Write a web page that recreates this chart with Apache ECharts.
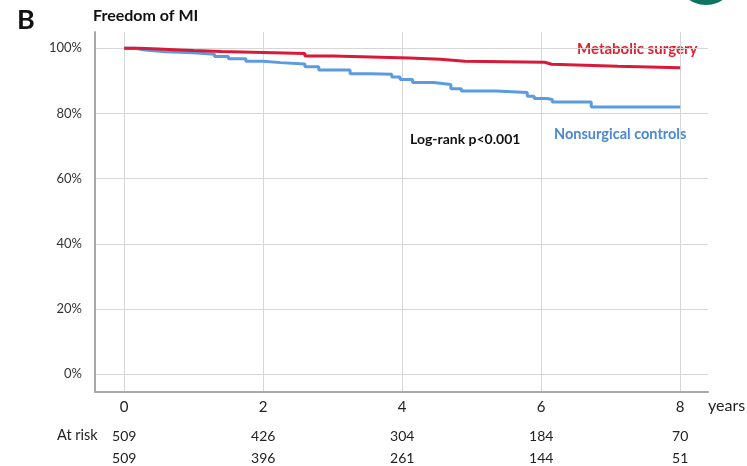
<!DOCTYPE html>
<html><head><meta charset="utf-8">
<script src="https://cdn.jsdelivr.net/npm/echarts@6/dist/echarts.min.js"></script>
<style>html,body{margin:0;padding:0;background:#fff}#c{width:747px;height:466px}</style>
</head><body><div id="c"></div>
<script>
// ---- data ----
const xTicks = [0, 2, 4, 6, 8];
const atRiskSurgery = [509, 426, 304, 184, 70];
const atRiskControls = [509, 396, 261, 144, 51];
const surgeryTime = [0, 0.2, 0.5, 0.8, 1.0, 1.4, 2.6, 3.0, 4.1, 4.55, 4.9, 6.05, 6.15, 7.1, 8.0];
const surgerySurv = [100, 99.8, 99.5, 99.3, 99.0, 98.4, 97.6, 97.0, 96.6, 96.0, 95.7, 95.1, 94.5, 94.0, 94.0];
const controlTime = [0, 0.15, 0.3, 0.6, 1.0, 1.3, 1.5, 1.75, 2.0, 2.25, 2.6, 2.8, 3.25, 3.55, 3.85, 3.97, 4.15, 4.45, 4.7, 4.85, 5.35, 5.8, 5.9, 6.08, 6.16, 6.72, 8.0];
const controlSurv = [100, 99.5, 98.9, 98.6, 98.2, 97.5, 96.8, 96.0, 95.6, 95.2, 94.3, 93.3, 92.2, 92.0, 91.2, 90.4, 89.5, 88.9, 87.6, 86.9, 86.4, 85.3, 84.6, 84.3, 83.5, 82.0, 82.0];

const FONT = 'Lato';
const pairs = (t, s) => t.map((v, i) => [v, s[i]]);
const tickIndex = v => xTicks.findIndex(t => Math.abs(t - v) < 1e-6);

const chart = echarts.init(document.getElementById('c'), null, {renderer: 'canvas'});
const riskAxis = (arr, margin) => ({
  type: 'value', min: -0.42, max: 8.4, splitNumber: 4, position: 'bottom', gridIndex: 0,
  axisLine: {show: false, onZero: false}, axisTick: {show: false}, splitLine: {show: false},
  axisLabel: {
    margin: margin, fontFamily: FONT, fontSize: 14, color: '#222',
    showMinLabel: false, showMaxLabel: false,
    formatter: v => { const i = tickIndex(v); return i >= 0 ? String(arr[i]) : ''; }
  }
});

chart.setOption({
  animation: false,
  backgroundColor: '#fff',
  grid: {left: 95, right: 39, top: 32, bottom: 74, containLabel: false},
  xAxis: [
    {
      type: 'value', min: -0.42, max: 8.4, splitNumber: 4,
      axisLine: {show: true, onZero: false, lineStyle: {color: '#a8a8a8', width: 2}},
      axisTick: {show: false},
      splitLine: {show: true, showMinLine: false, showMaxLine: false, lineStyle: {color: '#d6d6d6', width: 1}},
      axisLabel: {
        margin: 8, fontFamily: FONT, fontSize: 15, color: '#222',
        showMinLabel: false, showMaxLabel: false,
        formatter: v => tickIndex(v) >= 0 ? String(xTicks[tickIndex(v)]) : ''
      }
    },
    riskAxis(atRiskSurgery, 37),
    riskAxis(atRiskControls, 59)
  ],
  yAxis: {
    type: 'value', min: -5.5, max: 105, splitNumber: 5,
    axisLine: {show: true, onZero: false, lineStyle: {color: '#a8a8a8', width: 2}},
    axisTick: {show: false},
    splitLine: {show: true, showMinLine: false, showMaxLine: false, lineStyle: {color: '#d6d6d6', width: 1}},
    axisLabel: {
      margin: 13, fontFamily: FONT, fontSize: 13, color: '#333',
      showMinLabel: false, showMaxLabel: false,
      formatter: v => (Math.abs(v % 20) < 1e-6 && v >= 0 && v <= 100) ? v + '%' : ''
    }
  },
  series: [
    {
      name: 'Nonsurgical controls', type: 'line', step: 'end', showSymbol: false, symbol: 'none',
      data: pairs(controlTime, controlSurv), lineStyle: {color: '#5b9be1', width: 3}, z: 2
    },
    {
      name: 'Metabolic surgery', type: 'line', step: 'end', showSymbol: false, symbol: 'none',
      data: pairs(surgeryTime, surgerySurv), lineStyle: {color: '#d81a38', width: 3}, z: 3
    }
  ],
  graphic: [
    {type: 'circle', shape: {cx: 706, cy: -25, r: 30}, style: {fill: '#0e7462'}},
    {type: 'text', left: 17, top: 7, style: {text: 'B', font: 'bold 27px ' + FONT, fill: '#111'}},
    {type: 'text', left: 93, top: 8, style: {text: 'Freedom of MI', font: 'bold 16px ' + FONT, fill: '#111'}},
    {type: 'text', left: 577, top: 42, style: {text: 'Metabolic surgery', font: 'bold 15px ' + FONT, fill: '#e41f2d'}},
    {type: 'text', left: 554, top: 127, style: {text: 'Nonsurgical controls', font: 'bold 14.5px ' + FONT, fill: '#4a88d4'}},
    {type: 'text', left: 410, top: 132, style: {text: 'Log-rank p<0.001', font: 'bold 14px ' + FONT, fill: '#111'}},
    {type: 'text', left: 708, top: 398, style: {text: 'years', font: '16px ' + FONT, fill: '#222'}},
    {type: 'text', left: 57, top: 428, style: {text: 'At risk', font: '14.5px ' + FONT, fill: '#222'}}
  ]
});
</script></body></html>
